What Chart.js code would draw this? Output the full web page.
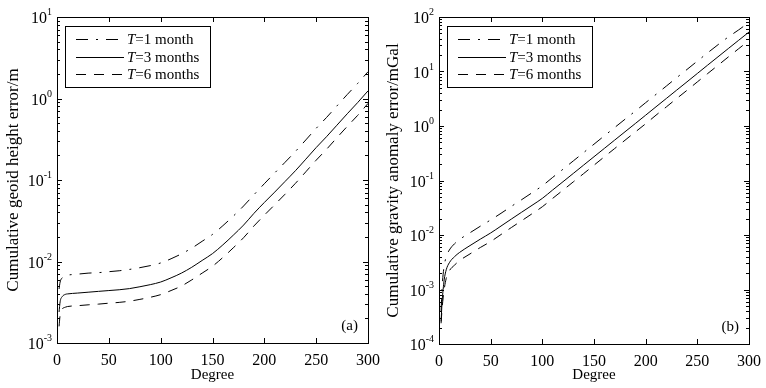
<!DOCTYPE html>
<html><head><meta charset="utf-8">
<script src="https://cdn.jsdelivr.net/npm/chart.js@4/dist/chart.umd.min.js"></script>
<style>
html,body{margin:0;padding:0;background:#fff;}
#wrap{position:relative;width:766px;height:388px;}
canvas{position:absolute;top:0;}
#c1{left:0;} #c2{left:383px;}
</style></head>
<body><div id="wrap"><canvas id="c1" width="383" height="388"></canvas><canvas id="c2" width="383" height="388"></canvas></div>
<script>
// ---- data ----
const xTickValues = [0, 50, 100, 150, 200, 250, 300];
const seriesNames = ['=1 month', '=3 months', '=6 months'];
const panelLabels = ['(a)', '(b)'];
const yTitles = ['Cumulative geoid height error/m', 'Cumulative gravity anomaly error/mGal'];
const xTitle = 'Degree';
const leftDecades = [-3, -2, -1, 0, 1];
const rightDecades = [-4, -3, -2, -1, 0, 1, 2];

const degL = [2,3,5,8,10,20,30,40,50,60,70,80,90,100,110,120,130,140,150,160,170,180,190,200,210,220,230,240,250,260,270,280,290,300];
const geoidT1 = [4.6e-3,5.6e-3,6.3e-3,6.7e-3,6.8e-3,7.0e-3,7.2e-3,7.3e-3,7.5e-3,7.7e-3,8.0e-3,8.4e-3,8.9e-3,9.6e-3,1.08e-2,1.24e-2,1.46e-2,1.77e-2,2.15e-2,2.75e-2,3.6e-2,4.8e-2,6.6e-2,0.09,0.122,0.165,0.224,0.31,0.43,0.585,0.81,1.12,1.53,2.13];
const geoidT3 = [2.4e-3,3.2e-3,3.7e-3,3.95e-3,4.0e-3,4.1e-3,4.2e-3,4.3e-3,4.4e-3,4.5e-3,4.65e-3,4.9e-3,5.2e-3,5.6e-3,6.3e-3,7.2e-3,8.5e-3,1.03e-2,1.25e-2,1.6e-2,2.1e-2,2.8e-2,3.9e-2,5.3e-2,7.1e-2,9.6e-2,0.13,0.18,0.25,0.34,0.47,0.65,0.89,1.24];
const geoidT6 = [1.6e-3,2.2e-3,2.6e-3,2.75e-3,2.8e-3,2.87e-3,2.94e-3,3.0e-3,3.08e-3,3.15e-3,3.26e-3,3.43e-3,3.64e-3,3.92e-3,4.4e-3,5.0e-3,5.95e-3,7.2e-3,8.75e-3,1.12e-2,1.47e-2,1.96e-2,2.73e-2,3.7e-2,4.97e-2,6.7e-2,9.1e-2,0.126,0.175,0.238,0.33,0.455,0.62,0.87];

const degR = [2,3,4,5,7,10,15,20,30,40,50,60,70,80,90,100,110,120,130,140,150,160,170,180,190,200,210,220,230,240,250,260,270,280,290,300];
const gravT1 = [4e-4,1.1e-3,1.9e-3,2.7e-3,4.0e-3,5.3e-3,6.9e-3,8.3e-3,1.1e-2,1.45e-2,1.89e-2,2.5e-2,3.35e-2,4.45e-2,5.95e-2,8.0e-2,0.114,0.161,0.229,0.326,0.464,0.66,0.937,1.33,1.88,2.68,3.8,5.4,7.7,10.9,15.5,22,31,43,58,80];
const gravT3 = [2.6e-4,6e-4,1.0e-3,1.5e-3,2.3e-3,3.1e-3,4.0e-3,4.8e-3,6.4e-3,8.4e-3,1.09e-2,1.46e-2,1.96e-2,2.62e-2,3.5e-2,4.7e-2,6.7e-2,9.5e-2,0.135,0.192,0.273,0.388,0.551,0.783,1.11,1.58,2.25,3.2,4.55,6.46,9.2,13.1,18.6,26.4,37.4,53];
const gravT6 = [2.4e-4,4.5e-4,7e-4,1.0e-3,1.6e-3,2.2e-3,2.8e-3,3.4e-3,4.5e-3,5.9e-3,7.6e-3,1.02e-2,1.37e-2,1.83e-2,2.45e-2,3.3e-2,4.7e-2,6.65e-2,9.45e-2,0.134,0.191,0.272,0.386,0.548,0.777,1.1,1.58,2.24,3.19,4.52,6.44,9.17,13,18.5,26.2,37];

// ---- styles ----
const FONT = '"Liberation Serif", "Times New Roman", serif';
const dashes = [[12,8,2,8], [], [10,8]];

function pts(xs, ys){ return xs.map((v,i)=>({x:v, y:ys[i]})); }

const framePlugin = {
  id: 'frame',
  afterDraw(chart, args, o) {
    const {ctx, chartArea: a, scales: {x, y}} = chart;
    ctx.save();
    ctx.strokeStyle = '#000';
    ctx.lineWidth = 1;
    ctx.setLineDash([]);
    ctx.strokeRect(a.left + 0.5, a.top + 0.5, a.right - a.left, a.bottom - a.top);
    ctx.beginPath();
    for (const v of xTickValues) {
      const px = Math.round(x.getPixelForValue(v)) + 0.5;
      ctx.moveTo(px, a.bottom); ctx.lineTo(px, a.bottom - 5);
      ctx.moveTo(px, a.top); ctx.lineTo(px, a.top + 5);
    }
    const decs = o.decades;
    for (let i = 0; i < decs.length; i++) {
      const base = Math.pow(10, decs[i]);
      const py = Math.round(y.getPixelForValue(base)) + 0.5;
      ctx.moveTo(a.left, py); ctx.lineTo(a.left + 5, py);
      ctx.moveTo(a.right, py); ctx.lineTo(a.right - 5, py);
      if (i < decs.length - 1) {
        for (let m = 2; m <= 9; m++) {
          const q = Math.round(y.getPixelForValue(base * m)) + 0.5;
          ctx.moveTo(a.left, q); ctx.lineTo(a.left + 3, q);
          ctx.moveTo(a.right, q); ctx.lineTo(a.right - 3, q);
        }
      }
    }
    ctx.stroke();
    // y tick labels 10^n
    ctx.fillStyle = '#000';
    ctx.textBaseline = 'alphabetic';
    for (const d of decs) {
      const py = y.getPixelForValue(Math.pow(10, d));
      const expTxt = d < 0 ? '-' + Math.abs(d) : String(d);
      ctx.font = '10px ' + FONT;
      const ew = ctx.measureText(expTxt).width;
      const right = a.left - 5;
      ctx.textAlign = 'right';
      ctx.fillText(expTxt, right, py - 2);
      ctx.font = '16px ' + FONT;
      ctx.fillText('10', right - ew, py + 6);
    }
    // legend
    const lx = a.left + 8, ly = a.top + 9, lw = 145, lh = 61;
    ctx.fillStyle = '#fff';
    ctx.fillRect(lx, ly, lw, lh);
    ctx.strokeRect(lx + 0.5, ly + 0.5, lw, lh);
    const rows = [13, 31, 48];
    for (let i = 0; i < 3; i++) {
      const ry = ly + rows[i] + 0.5;
      ctx.beginPath();
      ctx.setLineDash(dashes[i]);
      ctx.moveTo(lx + 11, ry); ctx.lineTo(lx + 59, ry);
      ctx.stroke();
      ctx.setLineDash([]);
      ctx.fillStyle = '#000';
      ctx.textAlign = 'left';
      ctx.textBaseline = 'middle';
      ctx.font = 'italic 15px ' + FONT;
      ctx.fillText('T', lx + 62, ry + 1);
      const tw = ctx.measureText('T').width;
      ctx.font = '15px ' + FONT;
      ctx.fillText(seriesNames[i], lx + 62 + tw, ry + 1);
    }
    // panel label
    ctx.font = '15px ' + FONT;
    ctx.textAlign = 'right';
    ctx.textBaseline = 'middle';
    ctx.fillText(o.panel, a.right - 10, a.bottom - 17);
    ctx.restore();
  }
};

function makeChart(id, xs, s1, s2, s3, ymin, ymax, decades, panel, ytitle, padR, padTitle, xh) {
  const ds = [s1, s2, s3].map((s, i) => ({
    data: pts(xs, s),
    borderColor: '#000',
    borderWidth: 1,
    borderDash: dashes[i],
    pointRadius: 0,
    fill: false,
    cubicInterpolationMode: 'monotone'
  }));
  return new Chart(document.getElementById(id), {
    type: 'line',
    data: { datasets: ds },
    plugins: [framePlugin],
    options: {
      responsive: false,
      animation: false,
      devicePixelRatio: 1,
      layout: { padding: { left: 0, right: padR, top: 17, bottom: 4 } },
      plugins: {
        legend: { display: false },
        tooltip: { enabled: false },
        frame: { decades: decades, panel: panel }
      },
      scales: {
        x: {
          type: 'linear', min: 0, max: 300,
          grid: { display: false }, border: { display: false },
          ticks: { stepSize: 50, color: '#000', font: { family: FONT, size: 16 }, padding: 0, maxRotation: 0 },
          afterBuildTicks: s => { s.ticks = xTickValues.map(v => ({ value: v })); },
          afterFit: s => { s.height = xh; },
          title: { display: true, text: xTitle, color: '#000', font: { family: FONT, size: 15 }, padding: { top: 0, bottom: 0 } }
        },
        y: {
          type: 'logarithmic', min: ymin, max: ymax,
          grid: { display: false }, border: { display: false },
          ticks: { display: false },
          afterFit: s => { s.width = padTitle.w; },
          title: { display: true, text: ytitle, color: '#000', font: { family: FONT, size: 17 }, padding: { top: padTitle.t, bottom: 0 } }
        }
      }
    }
  });
}

makeChart('c1', degL, geoidT1, geoidT3, geoidT6, 1e-3, 10, leftDecades, panelLabels[0], yTitles[0], 15, {w: 57, t: 3}, 41);
makeChart('c2', degR, gravT1, gravT3, gravT6, 1e-4, 100, rightDecades, panelLabels[1], yTitles[1], 17, {w: 56, t: 0}, 40);
</script>
</body></html>
